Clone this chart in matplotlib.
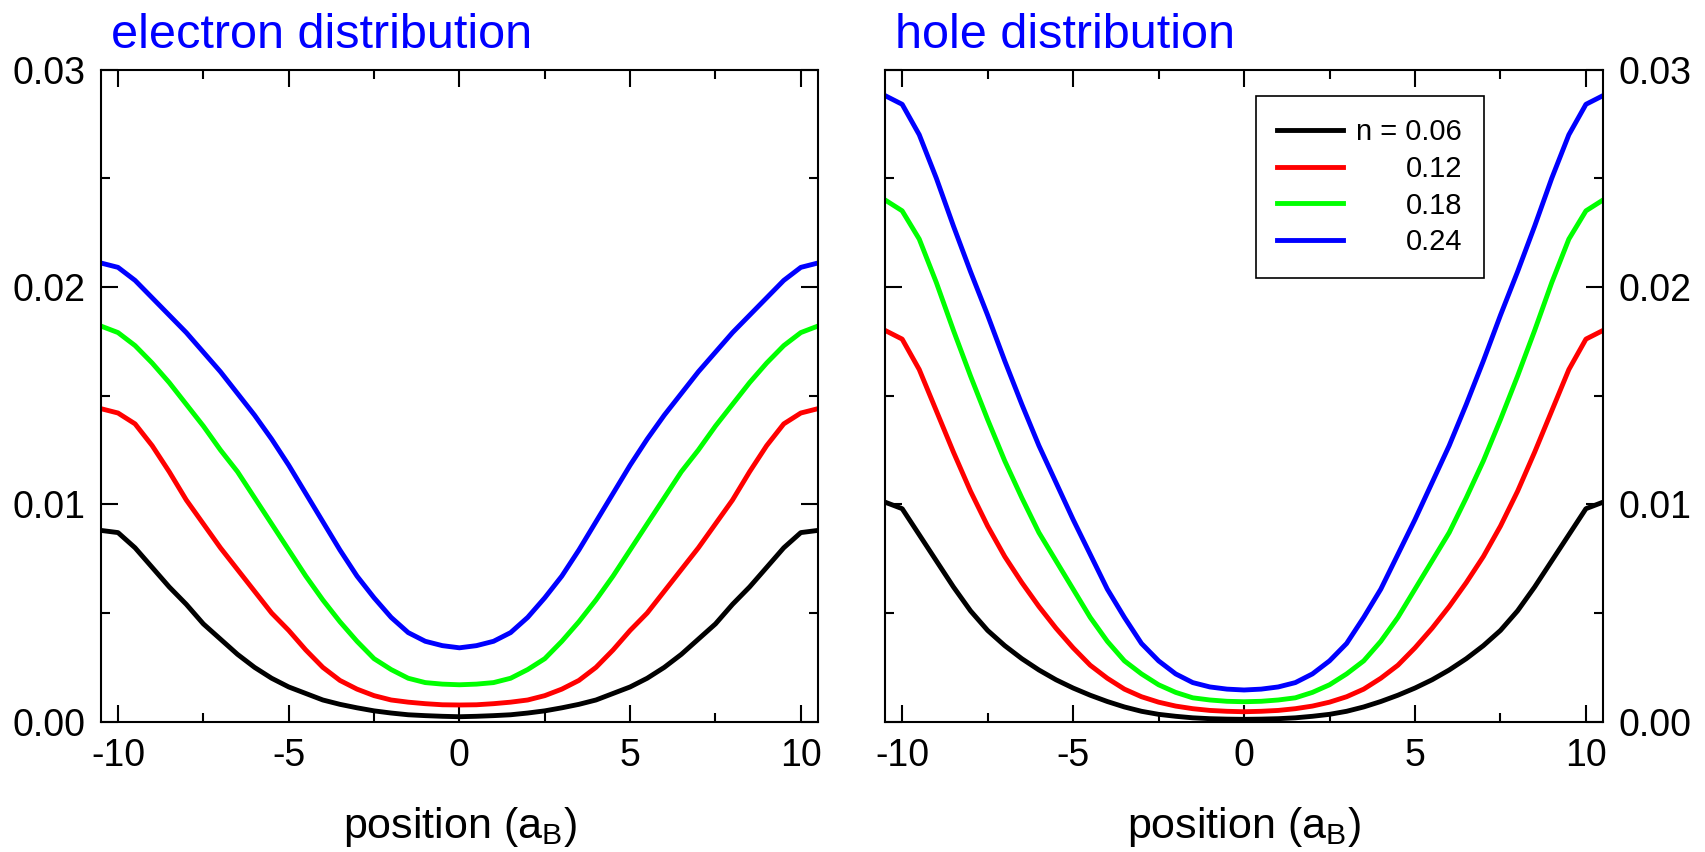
import numpy as np
import matplotlib
matplotlib.use('Agg')
import matplotlib.pyplot as plt
from matplotlib.ticker import MultipleLocator

plt.rcParams['font.family'] = ['Liberation Sans', 'DejaVu Sans']
plt.rcParams['mathtext.default'] = 'regular'
plt.rcParams['axes.unicode_minus'] = False

# positions in units of a_B
pos = [-10.5, -10, -9.5, -9, -8.5, -8, -7.5, -7, -6.5, -6, -5.5, -5, -4.5, -4, -3.5, -3, -2.5, -2, -1.5, -1, -0.5,
       0, 0.5, 1, 1.5, 2, 2.5, 3, 3.5, 4, 4.5, 5, 5.5, 6, 6.5, 7, 7.5, 8, 8.5, 9, 9.5, 10, 10.5]

labels = ['n = 0.06', '0.12', '0.18', '0.24']
colors = ['#000000', '#ff0000', '#00ff00', '#0000ff']

# electron density profiles
elec_006 = [0.0088, 0.0087, 0.0080, 0.0071, 0.0062, 0.0054, 0.0045, 0.0038, 0.0031, 0.0025, 0.0020, 0.0016,
            0.0013, 0.0010, 0.0008, 0.00064, 0.0005, 0.0004, 0.00032, 0.00028, 0.00025,
            0.00023,
            0.00025, 0.00028, 0.00032, 0.0004, 0.0005, 0.00064, 0.0008, 0.0010, 0.0013,
            0.0016, 0.0020, 0.0025, 0.0031, 0.0038, 0.0045, 0.0054, 0.0062, 0.0071, 0.0080, 0.0087, 0.0088]
elec_012 = [0.0144, 0.0142, 0.0137, 0.0127, 0.0115, 0.0102, 0.0091, 0.0080, 0.0070, 0.0060, 0.0050, 0.0042,
            0.0033, 0.0025, 0.0019, 0.0015, 0.0012, 0.0010, 0.0009, 0.00083, 0.00078,
            0.00077,
            0.00078, 0.00083, 0.0009, 0.0010, 0.0012, 0.0015, 0.0019, 0.0025, 0.0033,
            0.0042, 0.0050, 0.0060, 0.0070, 0.0080, 0.0091, 0.0102, 0.0115, 0.0127, 0.0137, 0.0142, 0.0144]
elec_018 = [0.0182, 0.0179, 0.0173, 0.0165, 0.0156, 0.0146, 0.0136, 0.0125, 0.0115, 0.0103, 0.0091, 0.0079,
            0.0067, 0.0056, 0.0046, 0.0037, 0.0029, 0.0024, 0.0020, 0.0018, 0.00173,
            0.0017,
            0.00173, 0.0018, 0.0020, 0.0024, 0.0029, 0.0037, 0.0046, 0.0056, 0.0067,
            0.0079, 0.0091, 0.0103, 0.0115, 0.0125, 0.0136, 0.0146, 0.0156, 0.0165, 0.0173, 0.0179, 0.0182]
elec_024 = [0.0211, 0.0209, 0.0203, 0.0195, 0.0187, 0.0179, 0.0170, 0.0161, 0.0151, 0.0141, 0.0130, 0.0118,
            0.0105, 0.0092, 0.0079, 0.0067, 0.0057, 0.0048, 0.0041, 0.0037, 0.0035,
            0.0034,
            0.0035, 0.0037, 0.0041, 0.0048, 0.0057, 0.0067, 0.0079, 0.0092, 0.0105,
            0.0118, 0.0130, 0.0141, 0.0151, 0.0161, 0.0170, 0.0179, 0.0187, 0.0195, 0.0203, 0.0209, 0.0211]

# hole density profiles
hole_006 = [0.0101, 0.0098, 0.0086, 0.0074, 0.0062, 0.0051, 0.0042, 0.0035, 0.0029, 0.00238, 0.00193, 0.00155,
            0.00122, 0.00093, 0.00068, 0.00048, 0.00034, 0.00025, 0.00018, 0.00014, 0.00012,
            0.00011,
            0.00012, 0.00014, 0.00018, 0.00025, 0.00034, 0.00048, 0.00068, 0.00093, 0.00122,
            0.00155, 0.00193, 0.00238, 0.0029, 0.0035, 0.0042, 0.0051, 0.0062, 0.0074, 0.0086, 0.0098, 0.0101]
hole_012 = [0.0180, 0.0176, 0.0162, 0.0143, 0.0124, 0.0106, 0.0090, 0.0076, 0.0064, 0.0053, 0.0043, 0.0034,
            0.0026, 0.0020, 0.0015, 0.00115, 0.0009, 0.00072, 0.0006, 0.00052, 0.00048,
            0.00046,
            0.00048, 0.00052, 0.0006, 0.00072, 0.0009, 0.00115, 0.0015, 0.0020, 0.0026,
            0.0034, 0.0043, 0.0053, 0.0064, 0.0076, 0.0090, 0.0106, 0.0124, 0.0143, 0.0162, 0.0176, 0.0180]
hole_018 = [0.0240, 0.0235, 0.0222, 0.0202, 0.0180, 0.0159, 0.0139, 0.0120, 0.0103, 0.0087, 0.0074, 0.0061,
            0.0048, 0.0037, 0.0028, 0.0022, 0.0017, 0.00135, 0.0011, 0.0010, 0.00094,
            0.00092,
            0.00094, 0.0010, 0.0011, 0.00135, 0.0017, 0.0022, 0.0028, 0.0037, 0.0048,
            0.0061, 0.0074, 0.0087, 0.0103, 0.0120, 0.0139, 0.0159, 0.0180, 0.0202, 0.0222, 0.0235, 0.0240]
hole_024 = [0.0288, 0.0284, 0.0270, 0.0250, 0.0228, 0.0207, 0.0187, 0.0166, 0.0146, 0.0127, 0.0110, 0.0093,
            0.0077, 0.0061, 0.0048, 0.0036, 0.0028, 0.0022, 0.0018, 0.0016, 0.0015,
            0.00146,
            0.0015, 0.0016, 0.0018, 0.0022, 0.0028, 0.0036, 0.0048, 0.0061, 0.0077,
            0.0093, 0.0110, 0.0127, 0.0146, 0.0166, 0.0187, 0.0207, 0.0228, 0.0250, 0.0270, 0.0284, 0.0288]

elec = [elec_006, elec_012, elec_018, elec_024]
hole = [hole_006, hole_012, hole_018, hole_024]


def setup(ax, title):
    ax.set_xlim(-10.5, 10.5)
    ax.set_ylim(0, 0.03)
    ax.xaxis.set_major_locator(MultipleLocator(5))
    ax.xaxis.set_minor_locator(MultipleLocator(2.5))
    ax.yaxis.set_major_locator(MultipleLocator(0.01))
    ax.yaxis.set_minor_locator(MultipleLocator(0.005))
    ax.yaxis.set_major_formatter(lambda v, p: '%.2f' % v)
    ax.tick_params(which='both', direction='in', top=True, right=True,
                   left=True, bottom=True, width=1.5, labelsize=27)
    ax.tick_params(axis='x', which='both', pad=12)
    ax.tick_params(axis='y', which='both', pad=11)
    ax.tick_params(which='major', length=12)
    ax.tick_params(which='minor', length=6.5)
    for s in ax.spines.values():
        s.set_linewidth(1.5)
    ax.set_xlabel('position (a$_\\mathregular{B}$)', fontsize=31, labelpad=22)
    ax.text(0.014, 1.033, title, transform=ax.transAxes, color='#0000ff',
            fontsize=35, ha='left', va='baseline')


fig = plt.figure(figsize=(17.05, 8.52), dpi=100)
ax1 = fig.add_axes([0.0592, 0.1529, 0.4205, 0.7655])
ax2 = fig.add_axes([0.5191, 0.1529, 0.4211, 0.7655])

for ys, c, lab in zip(elec, colors, labels):
    ax1.plot(pos, ys, color=c, lw=3.5, label=lab, solid_joinstyle='round')
for ys, c, lab in zip(hole, colors, labels):
    ax2.plot(pos, ys, color=c, lw=3.5, label=lab, solid_joinstyle='round')

setup(ax1, 'electron distribution')
setup(ax2, 'hole distribution')
ax2.tick_params(axis='y', which='both', labelleft=False, labelright=True)

leg = ax2.legend(loc='upper right', bbox_to_anchor=(0.834, 0.959), borderaxespad=0,
                 fontsize=21, handlelength=2.25, handletextpad=0.45,
                 borderpad=0.75, labelspacing=0.3, fancybox=False, framealpha=1,
                 edgecolor='black')
leg.get_frame().set_linewidth(1.2)

# right-align the legend labels
fig.canvas.draw()
ws = [t.get_window_extent().width for t in leg.get_texts()]
for t, w in zip(leg.get_texts(), ws):
    t.set_x(max(ws) - w)

fig.savefig('out.png', dpi=100)
